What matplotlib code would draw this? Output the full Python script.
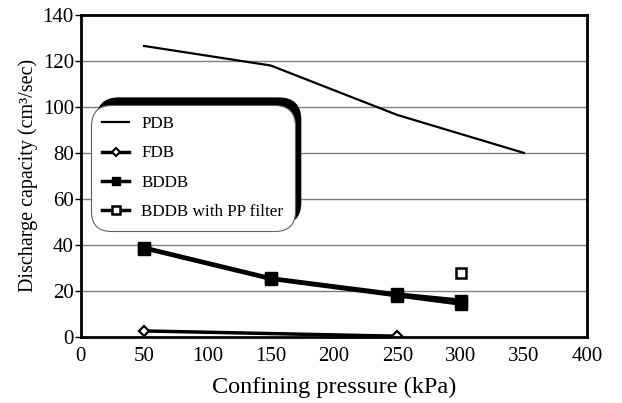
import matplotlib
matplotlib.use("Agg")
import matplotlib.pyplot as plt
from matplotlib.patches import FancyBboxPatch
from matplotlib.lines import Line2D

plt.rcParams['font.family'] = ['Liberation Serif', 'DejaVu Serif']

# data
pdb_x = [50, 150, 250, 350]
pdb_y = [126.5, 118, 96.5, 80]

fdb_x = [50, 250]
fdb_y = [2.6, 0.3]

bddb_x = [50, 150, 250, 300]
bddb_y = [38.8, 25.5, 18.5, 15.8]
bddb2_y = [38.3, 25.0, 17.8, 14.2]   # second, almost overlapping trace

pp_x = [300]
pp_y = [28]

x_ticks = [0, 50, 100, 150, 200, 250, 300, 350, 400]
y_ticks = [0, 20, 40, 60, 80, 100, 120, 140]

fig = plt.figure(figsize=(6.22, 4.03), dpi=100)
ax = fig.add_axes([0.130, 0.164, 0.814, 0.799])

for y in y_ticks[1:-1]:
    ax.axhline(y, color='#808080', lw=1, zorder=0)

ax.plot(pdb_x, pdb_y, color='black', lw=1.6, label='PDB')
ax.plot(fdb_x, fdb_y, color='black', lw=2.5, marker='D', ms=5,
        mfc='white', mec='black', mew=1.6, label='FDB')
ax.plot(bddb_x, bddb2_y, color='black', lw=2.2, marker='s', ms=8,
        mfc='black', mec='black')
ax.plot(bddb_x, bddb_y, color='black', lw=3, marker='s', ms=8,
        mfc='black', mec='black', label='BDDB')
ax.plot(pp_x, pp_y, color='black', lw=3, marker='s', ms=7,
        mfc='white', mec='black', mew=1.8, linestyle='none',
        label='BDDB with PP filter')

ax.set_xlim(0, 400)
ax.set_ylim(0, 140)
ax.set_xticks(x_ticks)
ax.set_yticks(y_ticks)
ax.tick_params(axis='x', length=0, labelsize=15, pad=7)
ax.tick_params(axis='y', length=4, width=1, direction='out', labelsize=15, pad=1)
for s in ax.spines.values():
    s.set_linewidth(2)

ax.set_xlabel('Confining pressure (kPa)', fontsize=17.5, labelpad=8)
ax.set_ylabel('Discharge capacity (cm³/sec)', fontsize=14.5, labelpad=3)

labels = ['PDB', 'FDB', 'BDDB', 'BDDB with PP filter']
handles = [
    Line2D([], [], color='black', lw=1.6),
    Line2D([], [], color='black', lw=2.5, marker='D', ms=4.5,
           mfc='white', mec='black', mew=1.5),
    Line2D([], [], color='black', lw=2.5, marker='s', ms=6,
           mfc='black', mec='black'),
    Line2D([], [], color='black', lw=2.5, marker='s', ms=6,
           mfc='white', mec='black', mew=1.8),
]
leg = ax.legend(handles, labels, loc='upper left', bbox_to_anchor=(0.02, 0.72),
                borderaxespad=0, fontsize=12.3, frameon=True, fancybox=True,
                edgecolor='#606060', framealpha=1, labelspacing=0.78,
                handlelength=1.6, borderpad=0.65, handletextpad=0.7)
leg.get_frame().set_linewidth(0.8)
leg.get_frame().set_boxstyle('round', pad=0, rounding_size=1.2)
leg.set_zorder(6)

# shadow up and to the right of the legend box
fig.canvas.draw()
bb = leg.get_window_extent().transformed(fig.transFigure.inverted())
dx, dy = 6 / 622, 7 / 403
shadow = FancyBboxPatch((bb.x0 + dx, bb.y0 + dy), bb.width, bb.height,
                        boxstyle='round,pad=0,rounding_size=0.035',
                        transform=fig.transFigure, facecolor='black',
                        edgecolor='black', zorder=5, clip_on=False,
                        mutation_aspect=622 / 403)
ax.add_patch(shadow)

fig.savefig('out.png', dpi=100)
